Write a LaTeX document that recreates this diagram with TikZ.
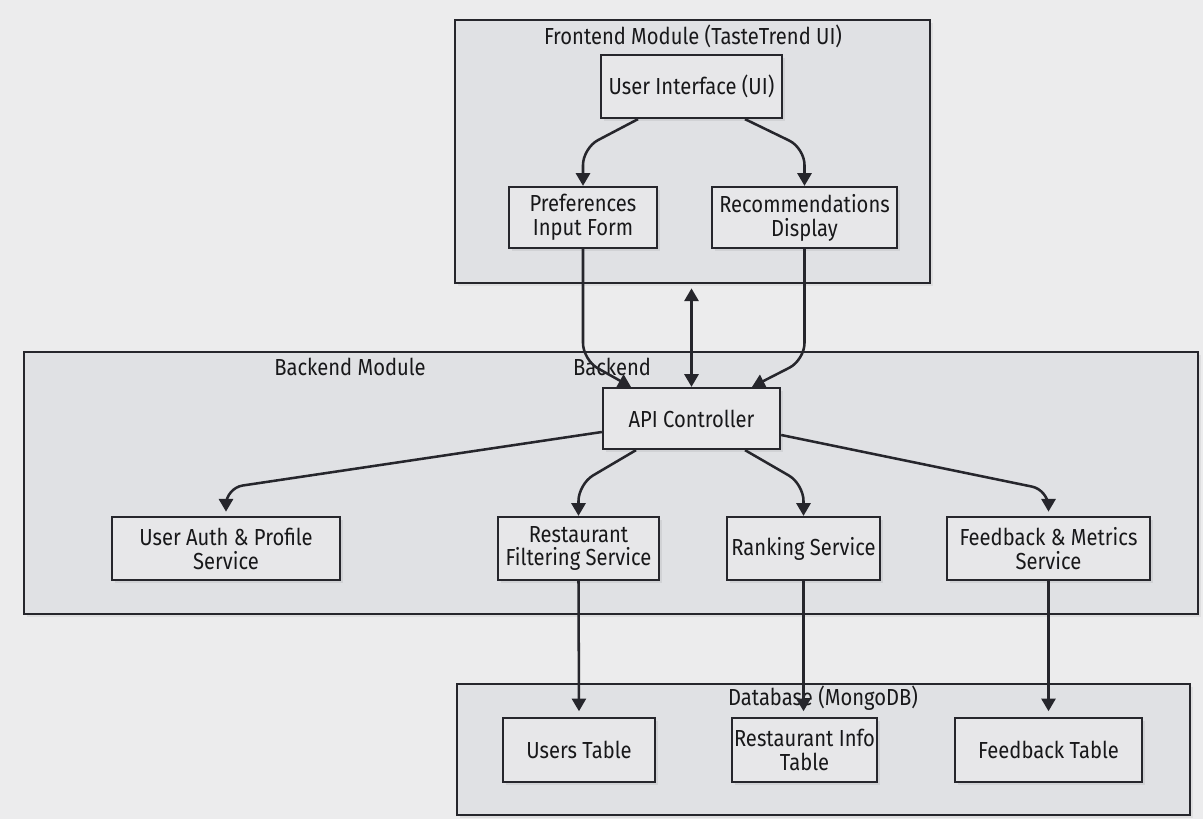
\documentclass[tikz,border=0pt]{standalone}
\usepackage{fontspec}
\setmainfont{Fira Sans}[FakeStretch=0.87]
\usetikzlibrary{arrows.meta,shadows}
\definecolor{bgcol}{RGB}{236,236,237}
\definecolor{framefill}{RGB}{224,225,228}
\definecolor{boxfill}{RGB}{231,231,233}
\definecolor{linecol}{RGB}{38,38,44}
\definecolor{textcol}{RGB}{24,24,26}
\begin{document}
\begin{tikzpicture}[x=0.025cm, y=-0.025cm,
    >={Triangle[length=9pt,width=10pt]},
    every node/.style={font=\fontsize{16.5}{17}\selectfont, text=textcol},
    module/.style={draw=linecol, line width=1.6pt, fill=framefill, inner sep=0pt,
        drop shadow={shadow xshift=2pt, shadow yshift=-2pt, opacity=0.12}},
    box/.style={draw=linecol, line width=1.6pt, fill=boxfill, align=center, inner sep=0pt,
        drop shadow={shadow xshift=2pt, shadow yshift=-2pt, opacity=0.15}},
    flow/.style={->, line width=1.8pt, draw=linecol, rounded corners=12pt}]
    \useasboundingbox (0,0) rectangle (1203,819);
    \fill [bgcol] (0,0) rectangle (1203,819);

    % module frames
    \node [module, minimum width=11.875cm, minimum height=6.575cm] (front) at (692.5,151.5) {};
    \node [module, minimum width=29.35cm,  minimum height=6.55cm]  (back)  at (611,483) {};
    \node [module, minimum width=18.325cm, minimum height=3.275cm] (db)    at (823.5,749.5) {};
    \node (fronttitle) at (693,36)  {Frontend Module (TasteTrend UI)};
    \node (backtitle)  at (350,367) {Backend Module};
    \node (backlabel)  at (612,367) {Backend};
    \node (dbtitle)    at (823,698) {Database (MongoDB)};

    % frontend
    \node [box, minimum width=4.525cm, minimum height=1.575cm] (ui)   at (691.5,86.5)  {User Interface (UI)};
    \node [box, minimum width=3.7cm,   minimum height=1.525cm] (pref) at (583,217.5)   {Preferences\\Input Form};
    \node [box, minimum width=4.625cm, minimum height=1.525cm] (rec)  at (804.5,217.5) {Recommendations\\Display};

    % backend
    \node [box, minimum width=4.425cm, minimum height=1.525cm] (api)    at (691.5,418.5)  {API Controller};
    \node [box, minimum width=5.7cm,   minimum height=1.575cm] (auth)   at (226,548.5)    {User Auth \& Profile\\Service};
    \node [box, minimum width=4.025cm, minimum height=1.575cm] (filter) at (578.5,548.5)  {Restaurant\\Filtering Service};
    \node [box, minimum width=3.825cm, minimum height=1.575cm] (rank)   at (803.5,548.5)  {Ranking Service};
    \node [box, minimum width=5.075cm, minimum height=1.575cm] (fbsvc)  at (1048.5,548.5) {Feedback \& Metrics\\Service};

    % database
    \node [box, minimum width=3.8cm,   minimum height=1.6cm] (users) at (579,750)    {Users Table};
    \node [box, minimum width=3.625cm, minimum height=1.6cm] (rinfo) at (804.5,750)  {Restaurant Info\\Table};
    \node [box, minimum width=4.675cm, minimum height=1.6cm] (fbtab) at (1048.5,750) {Feedback Table};

    % connectors
    \draw [flow] (ui.south -| 638,0) -- (pref.north |- 0,148) -- (pref.north);
    \draw [flow] (ui.south -| 745,0) -- (rec.north |- 0,148) -- (rec.north);
    \draw [flow] (pref.south) -- (pref.south |- 0,360) -- (api.north -| 631,0);
    \draw [flow] (rec.south) -- (rec.south |- 0,360) -- (api.north -| 752,0);
    \draw [<->, line width=1.8pt, draw=linecol, shorten <=3pt] (front.south -| api.north) -- (api.north);
    \draw [flow, shorten >=3pt] (api.west |- 0,432) -- (auth.north |- 0,488) -- (auth.north);
    \draw [flow] (api.south -| 636,0) -- (filter.north |- 0,484) -- (filter.north);
    \draw [flow] (api.south -| 745,0) -- (rank.north |- 0,484) -- (rank.north);
    \draw [flow, shorten >=3pt] (api.east |- 0,435) -- (fbsvc.north |- 0,490) -- (fbsvc.north);
    \draw [flow, shorten >=4pt] (filter.south) -- (users.north);
    \draw [flow, shorten >=4pt] (rank.south) -- (rinfo.north -| rank.south);
    \draw [flow, shorten >=4pt] (fbsvc.south) -- (fbtab.north);
\end{tikzpicture}
\end{document}
